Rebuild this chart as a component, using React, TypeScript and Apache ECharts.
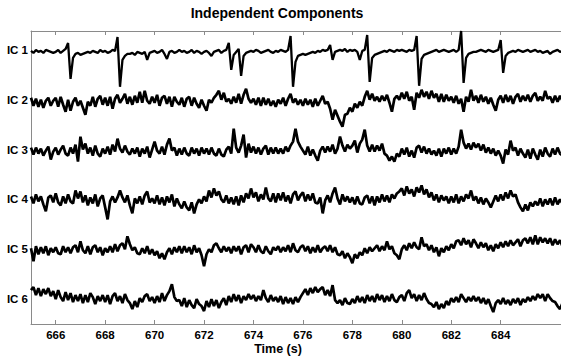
import React, { useEffect, useRef } from "react";
import * as echarts from "echarts";

// Sampling grid of the traces (seconds)
const SAMPLE_START = 665;
const SAMPLE_STEP = 0.1;
const CHANNEL_SPACING = 50;

const channelNames = ["IC 1", "IC 2", "IC 3", "IC 4", "IC 5", "IC 6"];
const xTickValues = [666, 668, 670, 672, 674, 676, 678, 680, 682, 684];
const channelLabelValues = [0, 50, 100, 150, 200, 250];

const ic1 = [
  -1, -3, 0, -2, -1, -3, 0, -1, -2, -3,
  -2, 0, -3, -1, 1, 7, -29, -8, -4, -3,
  -5, -4, -3, -2, -3, -1, -2, -3, 0, -2,
  -1, -3, -2, 0, -1, 13, -37, -10, -6, -4,
  -4, -3, -5, -2, -3, -4, -2, -10, -3, -2,
  -1, -3, -2, 0, -4, -9, -2, -1, -3, -2,
  0, -2, -1, -3, -2, 0, -3, -1, -2, -4,
  -2, -1, -3, -6, -2, -1, 0, -3, -1, 0,
  7, -20, -5, -2, 1, -26, -6, -3, -2, -1,
  -2, 0, -1, -3, -2, -1, 0, -2, -3, -1,
  -2, 0, -1, -2, 0, 14, -37, -12, -6, -5,
  -4, -5, -4, -3, -2, -3, -1, -2, 0, -1,
  0, 5, -10, -2, -1, 0, -1, 1, -2, 0,
  -1, 0, -2, -10, -1, 0, 15, -32, -8, -5,
  -4, -3, -2, -1, -2, 0, -1, -2, 0, -1,
  0, -1, -2, 0, -1, 0, 14, -36, -9, -5,
  -4, -3, -2, -1, 0, -2, -1, 0, -1, -2,
  -1, 0, -2, 0, 19, -33, -8, -4, -3, -2,
  -2, -1, 0, -1, -2, 0, -1, -2, -1, 0,
  10, -23, -6, -3, -2, -1, -2, 0, -1, -2,
  -1, 0, -2, -1, 0, -2, -1, -3, -2, -1,
  -4, -2, -1, 0, -2, -1,
];

const ic2 = [
  2, -6, 1, -7, 0, -8, -1, 2, -6, -1,
  2, -7, 3, -5, -12, 0, -11, -2, 2, -6,
  -1, -8, -15, -2, -6, 3, -7, 1, 4, -5,
  2, -6, 3, -9, 1, 5, -3, 1, 6, -4,
  3, -5, 4, -3, 8, -3, 9, -1, -4, 3,
  -3, 5, -6, 2, 4, -4, 3, -7, 3, -2,
  -5, 2, -7, 1, 3, -6, 2, -4, -8, 0,
  -6, -11, 0, -3, 2, 5, 9, 0, 7, -2,
  1, -4, 3, -3, 6, -4, 5, 11, 1, -3,
  1, -5, 2, -6, 2, -5, 1, -6, -1, -7,
  0, -4, 2, -6, 1, 6, -3, 1, -5, 0,
  -6, 1, -5, 0, -7, 1, -6, -1, 4, -4,
  -2, -9, -20, -10, -16, -22, -27, -15, -14, -8,
  -12, -4, -8, -2, -6, 3, 9, 0, 6, -1,
  3, -2, 4, -1, 5, -3, -12, 1, 4, 0,
  7, 1, 8, -1, 3, -10, 7, 2, 10, 3,
  8, 1, 9, 2, 6, -2, 6, -2, 5, -1,
  3, -3, 4, -4, 1, -12, 3, -2, 10, -1,
  4, -3, 5, -2, 3, -4, 2, -5, -11, 0,
  4, -3, 5, -2, 4, -4, 3, 6, -2, 4,
  -1, 5, -2, 4, 7, -1, 3, -1, 9, 1,
  3, -3, 4, -2, 4, -1,
];

const ic3 = [
  2, -5, 2, -4, 1, -6, -1, 3, -10, -2,
  2, -5, 0, 4, -4, -6, 2, -4, 5, -12,
  13, 0, 6, -4, 2, -6, 4, -4, -7, 1,
  -4, 3, -5, 5, -2, 11, 1, -3, 4, -2,
  -5, 1, -4, 2, -7, 1, -4, 3, -8, 0,
  8, -1, -4, 3, -5, 5, 11, -1, 2, -6,
  1, -5, 2, -4, -6, 2, -4, 1, -6, 2,
  -4, 1, -5, 2, -4, -6, 1, -5, -7, 0,
  3, -4, 21, 2, -3, 4, 15, -8, 6, -3,
  3, -4, 2, -5, 1, 4, -5, 2, -4, 2,
  -4, 1, -4, 3, -2, 4, 8, 21, 8, 3,
  -1, -5, 3, -6, 0, -6, -11, -1, 3, -3,
  3, -2, 5, -4, 1, 13, 4, -2, 5, 1,
  4, 9, -3, 6, 10, 20, 4, -2, 5, -2,
  4, -1, 6, -4, -6, -11, -7, -12, -4, -7,
  1, -5, 2, -7, -1, -8, 2, 4, -3, 3,
  -4, 1, -5, -1, -6, 1, -7, 1, -4, 2,
  -5, 1, -4, 3, 20, 7, 1, 6, 0, 7,
  2, 6, -1, 5, -3, 2, -4, 1, -6, -1,
  -6, -14, 0, -5, 9, -1, 2, -6, 1, -4,
  -8, 0, -9, 1, -5, -10, 0, -7, 2, -4,
  -7, 1, -5, 2, -4, -6,
];

const ic4 = [
  3, -4, 5, -2, 3, -5, -12, 2, 4, -3,
  6, -3, -6, 3, -4, 5, -2, -4, 9, 1,
  8, -3, 4, -6, 2, -4, 5, -7, 1, 4,
  -8, -20, -2, 3, -3, 2, 9, 2, -3, 4,
  -6, -14, 1, -4, 3, -5, 4, 8, -3, 1,
  -4, 4, -5, 2, -6, 3, -3, 5, -7, 1,
  -5, -9, -2, -8, -11, -3, -14, -5, 0, -4,
  3, -2, 9, 2, 11, 4, 8, 0, -3, 4,
  -4, 2, -5, 3, -6, 4, -3, 6, 1, 11,
  2, 7, -2, 5, 0, 12, 1, -2, 6, -3,
  6, -1, 7, -2, 4, -4, 5, 8, -1, 4,
  7, -2, 5, -1, 6, -3, -4, 2, -14, -1,
  4, -3, 6, 12, 1, -5, 5, -2, 3, -3,
  2, -5, 3, -4, -5, 2, 4, -4, 3, -6,
  3, -3, 5, -2, 4, -3, 5, 1, 6, 8,
  11, 4, 13, 6, 10, 3, 12, 7, 14, 5,
  10, 2, 7, -1, 5, -3, 4, -1, 3, -4,
  3, -3, 5, -4, 3, -2, 5, 1, 9, -1,
  3, -4, 2, -5, 1, -3, -8, -2, 4, -2,
  5, -1, 7, 1, 9, 3, 5, -3, -8, -12,
  -5, -11, -3, -7, -2, -6, 1, -7, 0, -5,
  1, -6, 2, -5, 0, -4,
];

const ic5 = [
  1, -12, 3, -5, 2, -4, 3, -6, 1, -3,
  2, -4, -5, 3, -3, 2, -4, 2, 4, -3,
  8, -1, -4, 3, -5, 2, 4, -3, 2, -6,
  1, -3, 3, -3, 5, -2, 4, 6, 0, 13,
  5, -1, 2, -4, -5, 1, -4, 3, -5, 0,
  -6, -2, -9, -4, -10, -3, 1, -5, 2, -3,
  3, -4, 3, -3, 2, -5, 4, -3, 1, -6,
  -17, -5, 0, -3, 4, 6, 1, -3, 3, -2,
  2, -4, 3, -2, 3, -5, 2, 4, -3, 5,
  2, -3, 4, -2, -4, 3, -2, -5, 2, -1,
  3, -3, 2, -2, 4, -3, 6, -1, -3, 2,
  4, -2, 3, -4, 2, -3, 4, -3, 1, 3,
  -2, 4, -3, 2, -5, -6, -2, -9, -4, -8,
  -14, -5, -9, -3, -6, 1, -4, 2, -2, 1,
  4, -2, 3, -1, 8, 0, 3, -4, -6, -10,
  0, 4, -1, 6, 1, 7, 2, 0, 12, 3,
  5, -1, 4, -3, 2, -7, 1, -3, 3, -1,
  5, 1, 8, 9, 4, 11, 5, 9, 2, 10,
  6, 1, 7, 2, 6, -1, 4, -2, 5, 1,
  7, 2, 8, 3, 9, 4, 7, 10, 3, 9,
  11, 6, 12, 5, 14, 5, 12, 7, 11, 6,
  11, 4, 10, 5, 9, 3,
];

const ic6 = [
  9, 12, 4, 11, 3, 10, 5, 11, 3, 8,
  0, 9, 2, -2, 7, -1, 6, -3, 4, -2,
  5, -4, 4, -3, 6, 2, -5, 3, -2, 4,
  -3, 4, -5, 3, 6, -2, 3, -4, 5, -1,
  -4, -10, -2, -8, 1, -3, 3, 5, -2, 2,
  -4, 3, -3, 6, -2, 4, 8, 15, 2, -2,
  -1, -7, 1, -8, -1, -6, -9, 0, -5, -7,
  -12, -2, -8, 0, -7, -1, -9, -3, 1, -6,
  3, -3, 5, -2, 4, -4, 3, -1, 5, 0,
  4, -2, 3, -1, 9, 1, -3, 4, -2, 2,
  -3, 3, -5, 2, -4, 1, -5, 2, -3, 2,
  6, 10, 4, 11, 6, 12, 7, 10, 12, 4,
  9, 3, 14, -1, -4, -1, -6, 1, -4, -5,
  0, -4, 3, -3, 2, -4, 4, -2, 3, -3,
  5, -1, 4, -3, 3, -2, 5, -1, -3, 2,
  4, -2, 6, 9, 1, 5, -2, 4, -1, 6,
  0, -4, -5, -8, -3, -10, -5, -9, -2, -6,
  1, -3, 2, -3, 5, 1, -3, 2, -2, 3,
  -2, 2, -4, 1, -5, 0, -7, -13, -4, -1,
  -5, 1, -5, -1, -6, 0, -4, 1, -6, 0,
  -3, 2, -2, 3, -1, 5, 1, 5, -2, 5,
  1, -2, -3, -7, -10, -4,
];

const traces = [ic1, ic2, ic3, ic4, ic5, ic6];

const FONT = '"Liberation Sans", Arial, Helvetica, sans-serif';
const AXIS_GRAY = "#8a8a8a";

export default function App() {
  const ref = useRef<HTMLDivElement>(null);

  useEffect(() => {
    document.body.style.margin = "0";
    if (!ref.current) return;
    const chart = echarts.init(ref.current, undefined, { renderer: "svg" });

    const n = traces.length;
    const series = traces.map((vals, k) => ({
      type: "line",
      name: channelNames[k],
      data: vals.map((v, i) => [
        Math.round((SAMPLE_START + i * SAMPLE_STEP) * 100) / 100,
        (n - 1 - k) * CHANNEL_SPACING + v,
      ]),
      symbol: "none",
      showSymbol: false,
      silent: true,
      clip: true,
      lineStyle: { color: "#000", width: k === 0 ? 2.3 : 2.7 },
    }));

    const xMin = 665;
    const xMax = 686.44;

    const xAxisCommon = {
      type: "value",
      min: xMin,
      max: xMax,
      axisLine: {
        show: true,
        onZero: false,
        lineStyle: { color: AXIS_GRAY, width: 1 },
      },
      axisTick: {
        show: true,
        inside: true,
        length: 4,
        customValues: xTickValues,
        lineStyle: { color: AXIS_GRAY },
      },
      splitLine: { show: false },
    };

    chart.setOption({
      animation: false,
      backgroundColor: "#fff",
      grid: { left: 31, right: 0, top: 31, bottom: 33, containLabel: false },
      xAxis: [
        {
          ...xAxisCommon,
          position: "bottom",
          axisLabel: {
            customValues: xTickValues,
            color: "#000",
            fontWeight: "bold",
            fontSize: 11.5,
            fontFamily: FONT,
            margin: 5,
          },
        },
        {
          ...xAxisCommon,
          position: "top",
          axisLabel: { show: false },
        },
      ],
      yAxis: {
        type: "value",
        min: -25,
        max: 269,
        axisLine: {
          show: true,
          onZero: false,
          lineStyle: { color: AXIS_GRAY, width: 1 },
        },
        axisTick: { show: false },
        axisLabel: {
          customValues: channelLabelValues,
          formatter: (v: number) =>
            channelNames[n - 1 - Math.round(v / CHANNEL_SPACING)] ?? "",
          color: "#000",
          fontWeight: "bold",
          fontSize: 11.5,
          fontFamily: FONT,
          margin: 3,
        },
        splitLine: { show: false },
      },
      graphic: [
        {
          type: "text",
          x: 277,
          y: 13,
          style: {
            text: "Independent Components",
            fill: "#000",
            fontSize: 14,
            fontWeight: "bold",
            fontFamily: FONT,
            align: "center",
            verticalAlign: "middle",
          },
        },
        {
          type: "text",
          x: 278,
          y: 349,
          style: {
            text: "Time (s)",
            fill: "#000",
            fontSize: 12.5,
            fontWeight: "bold",
            fontFamily: FONT,
            align: "center",
            verticalAlign: "middle",
          },
        },
      ],
      series,
    });

    return () => chart.dispose();
  }, []);

  return <div ref={ref} style={{ width: 561, height: 357 }} />;
}
